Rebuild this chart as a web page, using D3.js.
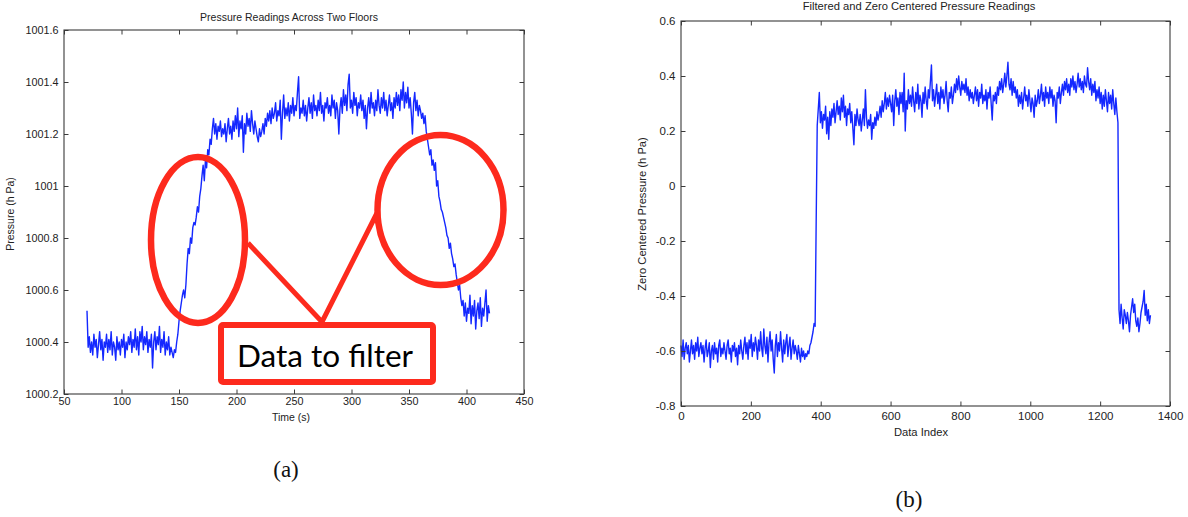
<!DOCTYPE html>
<html><head><meta charset="utf-8">
<script src="https://cdn.jsdelivr.net/npm/d3@7"></script>
<style>
html,body{margin:0;padding:0;background:#fff;}
svg{display:block;}
</style></head><body>
<svg id="chart" width="1188" height="517"></svg>
<script>
// ---------------- DATA ----------------
const leftTitle = "Pressure Readings Across Two Floors";
const leftXLabel = "Time (s)";
const leftYLabel = "Pressure (h Pa)";
const rightTitle = "Filtered and Zero Centered Pressure Readings";
const rightXLabel = "Data Index";
const rightYLabel = "Zero Centered Pressure (h Pa)";
const captionA = "(a)";
const captionB = "(b)";
const calloutText = "Data to filter";

const leftXTicks = [50, 100, 150, 200, 250, 300, 350, 400, 450];
const leftYTicks = [1000.2, 1000.4, 1000.6, 1000.8, 1001, 1001.2, 1001.4, 1001.6];
const leftYTickLabels = ["1000.2", "1000.4", "1000.6", "1000.8", "1001", "1001.2", "1001.4", "1001.6"];
const rightXTicks = [0, 200, 400, 600, 800, 1000, 1200, 1400];
const rightYTicks = [-0.8, -0.6, -0.4, -0.2, 0, 0.2, 0.4, 0.6];
const rightYTickLabels = ["-0.8", "-0.6", "-0.4", "-0.2", "0", "0.2", "0.4", "0.6"];

// panel (a): one reading per second starting at t = 70 s
const leftStartTime = 70;
const leftStepSeconds = 1;
const leftPressure = [
1000.52,1000.38,1000.42,1000.36,1000.40,1000.35,1000.43,1000.38,1000.41,1000.34,
1000.39,1000.44,1000.37,1000.41,1000.33,1000.40,1000.38,1000.43,1000.36,1000.41,
1000.37,1000.44,1000.35,1000.40,1000.38,1000.33,1000.42,1000.37,1000.40,1000.35,
1000.41,1000.38,1000.43,1000.34,1000.40,1000.37,1000.42,1000.39,1000.44,1000.36,
1000.41,1000.38,1000.45,1000.37,1000.42,1000.35,1000.44,1000.40,1000.46,1000.37,
1000.42,1000.39,1000.44,1000.36,1000.41,1000.38,1000.43,1000.30,1000.40,1000.44,
1000.37,1000.42,1000.39,1000.46,1000.36,1000.41,1000.38,1000.44,1000.35,1000.40,
1000.37,1000.42,1000.35,1000.38,1000.36,1000.34,1000.37,1000.36,1000.40,1000.43,
1000.48,1000.52,1000.55,1000.58,1000.60,1000.57,1000.62,1000.70,1000.76,1000.74,
1000.80,1000.78,1000.84,1000.86,1000.85,1000.88,1000.92,1000.90,1000.96,1000.99,
1001.04,1001.08,1001.02,1001.10,1001.07,1001.14,1001.12,1001.18,1001.16,1001.22,
1001.26,1001.20,1001.24,1001.18,1001.23,1001.21,1001.25,1001.19,1001.22,1001.20,
1001.24,1001.17,1001.22,1001.26,1001.20,1001.23,1001.18,1001.25,1001.21,1001.27,
1001.22,1001.30,1001.19,1001.25,1001.22,1001.27,1001.13,1001.24,1001.20,1001.28,
1001.23,1001.26,1001.21,1001.29,1001.24,1001.20,1001.25,1001.22,1001.19,1001.17,
1001.22,1001.19,1001.21,1001.24,1001.20,1001.26,1001.23,1001.28,1001.25,1001.29,
1001.24,1001.30,1001.26,1001.28,1001.32,1001.25,1001.29,1001.27,1001.33,1001.18,
1001.28,1001.35,1001.26,1001.30,1001.27,1001.32,1001.25,1001.31,1001.28,1001.34,
1001.27,1001.31,1001.29,1001.36,1001.42,1001.26,1001.30,1001.28,1001.33,1001.27,
1001.31,1001.25,1001.30,1001.34,1001.28,1001.32,1001.26,1001.35,1001.29,1001.31,
1001.27,1001.33,1001.29,1001.36,1001.28,1001.31,1001.25,1001.32,1001.30,1001.34,
1001.28,1001.31,1001.27,1001.35,1001.30,1001.33,1001.26,1001.32,1001.29,1001.20,
1001.30,1001.34,1001.28,1001.37,1001.31,1001.35,1001.29,1001.39,1001.43,1001.30,
1001.33,1001.28,1001.36,1001.31,1001.34,1001.27,1001.32,1001.30,1001.35,1001.29,
1001.33,1001.26,1001.31,1001.22,1001.30,1001.34,1001.28,1001.36,1001.30,1001.32,
1001.27,1001.33,1001.29,1001.37,1001.31,1001.28,1001.34,1001.30,1001.36,1001.29,
1001.33,1001.27,1001.31,1001.35,1001.29,1001.32,1001.26,1001.34,1001.30,1001.36,
1001.31,1001.35,1001.29,1001.37,1001.33,1001.40,1001.30,1001.36,1001.32,1001.38,
1001.30,1001.34,1001.28,1001.20,1001.32,1001.36,1001.29,1001.33,1001.27,1001.31,
1001.29,1001.26,1001.28,1001.24,1001.27,1001.21,1001.18,1001.15,1001.12,1001.14,
1001.08,1001.10,1001.06,1001.09,1001.00,1001.02,1000.96,1000.94,1000.91,1000.90,
1000.88,1000.86,1000.84,1000.81,1000.80,1000.76,1000.78,1000.74,1000.72,1000.69,
1000.70,1000.66,1000.63,1000.60,1000.62,1000.57,1000.54,1000.56,1000.50,1000.55,
1000.48,1000.53,1000.51,1000.58,1000.47,1000.54,1000.50,1000.56,1000.45,1000.52,
1000.55,1000.49,1000.57,1000.46,1000.53,1000.50,1000.55,1000.60,1000.48,1000.54,
1000.51
];

// panel (b): every third data index, starting at index 0
const rightStepIndex = 3;
const rightPressure = [
-0.58,-0.62,-0.56,-0.63,-0.59,-0.57,-0.61,-0.58,-0.64,-0.60,
-0.56,-0.61,-0.58,-0.63,-0.57,-0.60,-0.55,-0.62,-0.59,-0.57,
-0.61,-0.58,-0.64,-0.59,-0.56,-0.62,-0.60,-0.57,-0.66,-0.60,
-0.58,-0.63,-0.57,-0.61,-0.59,-0.64,-0.58,-0.56,-0.62,-0.59,
-0.61,-0.57,-0.60,-0.63,-0.58,-0.56,-0.61,-0.59,-0.64,-0.58,
-0.60,-0.57,-0.62,-0.59,-0.65,-0.58,-0.61,-0.56,-0.60,-0.63,
-0.58,-0.55,-0.61,-0.57,-0.63,-0.56,-0.59,-0.54,-0.62,-0.57,
-0.60,-0.55,-0.58,-0.63,-0.56,-0.60,-0.53,-0.59,-0.62,-0.52,
-0.58,-0.61,-0.55,-0.64,-0.57,-0.53,-0.60,-0.56,-0.63,-0.68,
-0.58,-0.54,-0.62,-0.57,-0.60,-0.53,-0.59,-0.64,-0.56,-0.61,
-0.57,-0.54,-0.62,-0.58,-0.55,-0.63,-0.59,-0.56,-0.61,-0.58,
-0.60,-0.63,-0.58,-0.61,-0.64,-0.59,-0.62,-0.60,-0.63,-0.61,
-0.62,-0.60,-0.61,-0.58,-0.57,-0.55,-0.53,-0.50,-0.51,-0.13,
0.22,0.28,0.34,0.23,0.27,0.21,0.26,0.24,0.29,0.19,
0.25,0.17,0.27,0.22,0.28,0.25,0.30,0.23,0.27,0.31,
0.26,0.29,0.24,0.32,0.27,0.33,0.25,0.29,0.22,0.28,
0.26,0.30,0.23,0.27,0.21,0.15,0.26,0.22,0.28,0.24,
0.22,0.26,0.20,0.24,0.28,0.22,0.35,0.25,0.21,0.24,
0.22,0.26,0.17,0.23,0.21,0.25,0.22,0.27,0.24,0.26,
0.29,0.25,0.31,0.27,0.30,0.34,0.28,0.32,0.29,0.33,
0.30,0.27,0.33,0.22,0.31,0.35,0.29,0.32,0.26,0.34,
0.30,0.34,0.27,0.41,0.20,0.31,0.28,0.35,0.30,0.33,
0.29,0.36,0.31,0.27,0.34,0.30,0.37,0.28,0.33,0.31,
0.25,0.34,0.30,0.36,0.31,0.28,0.35,0.32,0.38,0.44,
0.31,0.35,0.29,0.33,0.37,0.30,0.34,0.28,0.36,0.32,
0.35,0.30,0.33,0.38,0.31,0.27,0.34,0.32,0.36,0.30,
0.33,0.37,0.34,0.39,0.35,0.40,0.36,0.33,0.38,0.35,
0.37,0.34,0.39,0.33,0.36,0.31,0.35,0.32,0.34,0.30,
0.33,0.36,0.31,0.35,0.29,0.34,0.32,0.37,0.30,0.33,
0.31,0.35,0.28,0.34,0.32,0.36,0.30,0.24,0.33,0.31,
0.34,0.30,0.36,0.33,0.38,0.35,0.39,0.34,0.37,0.41,
0.36,0.40,0.45,0.37,0.35,0.39,0.33,0.38,0.34,0.36,
0.32,0.35,0.29,0.33,0.30,0.34,0.28,0.32,0.36,0.31,
0.33,0.29,0.35,0.31,0.27,0.32,0.30,0.25,0.33,0.29,
0.31,0.35,0.30,0.33,0.37,0.31,0.34,0.29,0.36,0.32,
0.34,0.30,0.36,0.32,0.35,0.29,0.33,0.31,0.23,0.34,
0.32,0.36,0.30,0.34,0.37,0.33,0.38,0.35,0.39,0.34,
0.37,0.33,0.39,0.36,0.40,0.35,0.38,0.34,0.37,0.41,
0.36,0.39,0.35,0.38,0.34,0.40,0.37,0.36,0.43,0.38,
0.35,0.39,0.33,0.37,0.34,0.38,0.31,0.35,0.32,0.36,
0.30,0.34,0.28,0.33,0.29,0.35,0.31,0.27,0.34,0.30,
0.33,0.28,0.35,0.30,0.26,0.32,0.27,0.23,-0.45,-0.50,
-0.43,-0.48,-0.52,-0.45,-0.47,-0.50,-0.46,-0.49,-0.53,-0.47,
-0.44,-0.41,-0.46,-0.43,-0.49,-0.51,-0.48,-0.53,-0.50,-0.46,
-0.44,-0.42,-0.38,-0.47,-0.43,-0.49,-0.45,-0.50,-0.47
];

// ---------------- LAYOUT ----------------
const FONT = "'Liberation Sans', Arial, Helvetica, sans-serif";
const AXIS_COLOR = "#3a3a3a";
const LINE_COLOR = "#1428ff";
const RED = "#fd2a1d";

const L = { x0: 64, x1: 524, y0: 394, y1: 30, tick: 10.8, title: 10.5, xPad: 3.3, titleX: 289, titleY: 21, xlabY: 421, xlabX: 291, ylabX: 14, ylabY: 214 };
const R = { x0: 681, x1: 1170, y0: 406, y1: 21, tick: 11.5, title: 11.2, xPad: 5.8, titleX: 919, titleY: 10, xlabY: 436, xlabX: 921, ylabX: 646, ylabY: 214 };

const svg = d3.select("#chart");

function panel(P, xDomain, yDomain, xTicks, yTicks, yTickLabels, data, xOf, texts) {
  const x = d3.scaleLinear().domain(xDomain).range([P.x0, P.x1]);
  const y = d3.scaleLinear().domain(yDomain).range([P.y0, P.y1]);
  const g = svg.append("g");

  // data line
  g.append("path")
    .datum(data)
    .attr("fill", "none")
    .attr("stroke", LINE_COLOR)
    .attr("stroke-width", 1.4)
    .attr("stroke-linejoin", "round")
    .attr("d", d3.line().x((d, i) => x(xOf(i))).y(d => y(d)));

  const tickLen = 4.5;
  const styleAxis = sel => {
    sel.select(".domain").remove();
    sel.selectAll(".tick line").attr("stroke", AXIS_COLOR);
    sel.selectAll(".tick text").attr("fill", "#222").style("font-family", FONT).style("font-size", P.tick + "px");
  };

  g.append("g").attr("transform", `translate(0,${P.y0})`)
    .call(d3.axisBottom(x).tickValues(xTicks).tickSizeInner(-tickLen).tickSizeOuter(0).tickPadding(P.xPad).tickFormat(d3.format("d")))
    .call(styleAxis);
  g.append("g").attr("transform", `translate(0,${P.y1})`)
    .call(d3.axisTop(x).tickValues(xTicks).tickSizeInner(-tickLen).tickSizeOuter(0).tickFormat(""))
    .call(styleAxis);
  g.append("g").attr("transform", `translate(${P.x0},0)`)
    .call(d3.axisLeft(y).tickValues(yTicks).tickSizeInner(-tickLen).tickSizeOuter(0).tickPadding(5.5)
      .tickFormat((d, i) => yTickLabels[i]))
    .call(styleAxis);
  g.append("g").attr("transform", `translate(${P.x1},0)`)
    .call(d3.axisRight(y).tickValues(yTicks).tickSizeInner(-tickLen).tickSizeOuter(0).tickFormat(""))
    .call(styleAxis);

  // box
  g.append("rect")
    .attr("x", P.x0).attr("y", P.y1)
    .attr("width", P.x1 - P.x0).attr("height", P.y0 - P.y1)
    .attr("fill", "none").attr("stroke", AXIS_COLOR).attr("stroke-width", 1.1);

  // texts
  g.append("text").attr("x", P.titleX).attr("y", P.titleY).attr("text-anchor", "middle")
    .style("font-family", FONT).style("font-size", P.title + "px").attr("fill", "#222").text(texts.title);
  g.append("text").attr("x", P.xlabX).attr("y", P.xlabY).attr("text-anchor", "middle")
    .style("font-family", FONT).style("font-size", P.title + "px").attr("fill", "#222").text(texts.xlab);
  g.append("text").attr("transform", `translate(${P.ylabX},${P.ylabY}) rotate(-90)`).attr("text-anchor", "middle")
    .style("font-family", FONT).style("font-size", P.title + "px").attr("fill", "#222").text(texts.ylab);
  return { x, y };
}

panel(L, [50, 450], [1000.2, 1001.6], leftXTicks, leftYTicks, leftYTickLabels, leftPressure,
  i => leftStartTime + i * leftStepSeconds,
  { title: leftTitle, xlab: leftXLabel, ylab: leftYLabel });

panel(R, [0, 1400], [-0.8, 0.6], rightXTicks, rightYTicks, rightYTickLabels, rightPressure,
  i => i * rightStepIndex,
  { title: rightTitle, xlab: rightXLabel, ylab: rightYLabel });

// ---------------- ANNOTATIONS (panel a) ----------------
const ann = svg.append("g");
ann.append("polyline")
  .attr("points", "248,243 322,322 377,213")
  .attr("fill", "none").attr("stroke", RED).attr("stroke-width", 5).attr("stroke-linejoin", "miter");
ann.append("ellipse").attr("cx", 198).attr("cy", 240).attr("rx", 47).attr("ry", 83)
  .attr("fill", "none").attr("stroke", RED).attr("stroke-width", 6.5);
ann.append("ellipse").attr("cx", 440.5).attr("cy", 210).attr("rx", 63).attr("ry", 75)
  .attr("fill", "none").attr("stroke", RED).attr("stroke-width", 6.5);
ann.append("rect").attr("x", 221).attr("y", 325).attr("width", 212).attr("height", 57).attr("rx", 2)
  .attr("fill", "#fff").attr("stroke", RED).attr("stroke-width", 6);
ann.append("text").attr("x", 237).attr("y", 367)
  .attr("textLength", 176).attr("lengthAdjust", "spacingAndGlyphs")
  .style("font-family", "Lato, 'Open Sans', sans-serif").style("font-size", "30px").attr("fill", "#000")
  .text(calloutText);

// ---------------- CAPTIONS ----------------
svg.append("text").attr("x", 286).attr("y", 477).attr("text-anchor", "middle")
  .style("font-family", "'Liberation Serif', 'DejaVu Serif', serif").style("font-size", "23px").attr("fill", "#111")
  .text(captionA);
svg.append("text").attr("x", 909).attr("y", 507).attr("text-anchor", "middle")
  .style("font-family", "'Liberation Serif', 'DejaVu Serif', serif").style("font-size", "23px").attr("fill", "#111")
  .text(captionB);
</script>
</body></html>
